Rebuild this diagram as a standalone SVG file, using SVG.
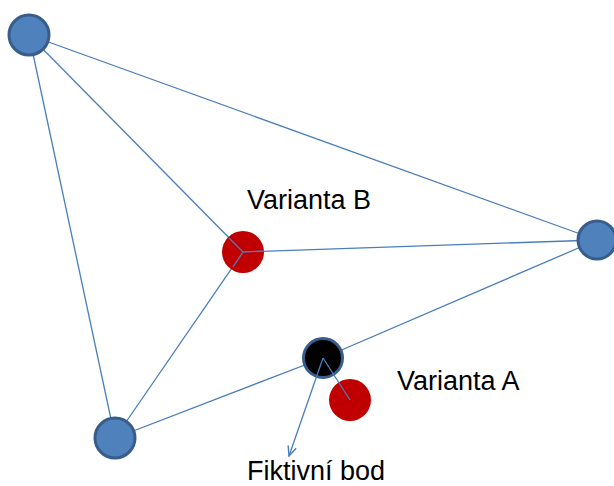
<svg xmlns="http://www.w3.org/2000/svg" width="614" height="486" viewBox="0 0 614 486">
<style>
.edge{stroke:#4a7ebb;stroke-width:1.3;fill:none}
.node{fill:#4f81bd;stroke:#385d8a;stroke-width:3}
.red{fill:#c00000}
.lbl{font-family:"Liberation Sans",Arial,sans-serif;font-size:27px;fill:#000}
</style>
<defs>
<marker id="arr" viewBox="0 0 10 10" refX="9" refY="5" markerWidth="12" markerHeight="12" markerUnits="userSpaceOnUse" orient="auto">
<path d="M1,1.5 L9,5 L1,8.5" fill="none" stroke="#4a7ebb" stroke-width="1.2"/>
</marker>
</defs>
<rect width="614" height="486" fill="#fff"/>
<g id="connectors">
<line class="edge" x1="29" y1="35" x2="597" y2="240"/>
<line class="edge" x1="29" y1="35" x2="115" y2="438"/>
<line class="edge" x1="29" y1="35" x2="243" y2="252"/>
<line class="edge" x1="243" y1="252" x2="597" y2="240"/>
<line class="edge" x1="243" y1="252" x2="115" y2="438"/>
<line class="edge" x1="115" y1="438" x2="323" y2="358"/>
<line class="edge" x1="323" y1="358" x2="597" y2="240"/>
</g>
<g id="n1"><circle class="node" cx="29" cy="35" r="20"/></g>
<g id="n2"><circle class="node" cx="115" cy="438" r="20"/></g>
<g id="n3"><circle class="node" cx="597" cy="240" r="19"/></g>
<g id="varB"><circle class="red" cx="243" cy="252" r="21"/>
<line class="edge" x1="243" y1="252" x2="229" y2="238"/>
<line class="edge" x1="243" y1="252" x2="264" y2="251"/>
<line class="edge" x1="243" y1="252" x2="233" y2="267"/>
<text class="lbl" x="247" y="209">Varianta B</text></g>
<g id="fict"><circle cx="323" cy="358" r="19.5" fill="#000" stroke="#385d8a" stroke-width="3"/>
<line class="edge" x1="323" y1="358" x2="289" y2="456" marker-end="url(#arr)"/>
<text class="lbl" x="247" y="480">Fiktivní bod</text></g>
<g id="varA"><circle class="red" cx="350" cy="400" r="21"/>
<line class="edge" x1="323" y1="358" x2="350" y2="400"/>
<text class="lbl" x="397" y="390">Varianta A</text></g>
</svg>
